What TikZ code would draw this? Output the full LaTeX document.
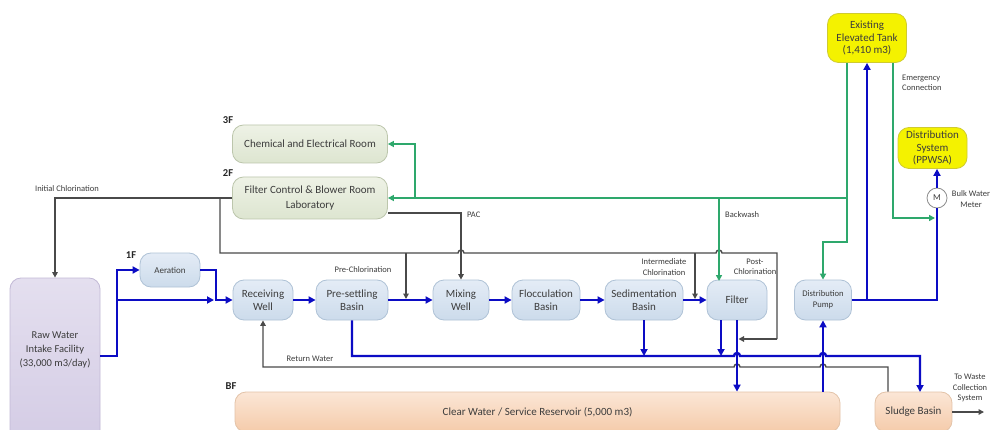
\documentclass[tikz,border=0pt]{standalone}
\usepackage{fontspec}
\setmainfont{Carlito}
\usetikzlibrary{arrows.meta}

\definecolor{txtgray}{HTML}{3C3C3C}
\definecolor{procline}{HTML}{AFC2D6}
\definecolor{proctop}{HTML}{E4ECF6}
\definecolor{procbot}{HTML}{CCDBEB}
\definecolor{roomline}{HTML}{BCC6AC}
\definecolor{roomtop}{HTML}{EEF2E6}
\definecolor{roombot}{HTML}{DDE5D0}
\definecolor{rawline}{HTML}{C2B9D6}
\definecolor{rawtop}{HTML}{E4DFEF}
\definecolor{rawbot}{HTML}{D4CCE5}
\definecolor{resline}{HTML}{E3C3A8}
\definecolor{restop}{HTML}{FBE6D6}
\definecolor{resbot}{HTML}{F5CBAA}
\definecolor{tankfill}{HTML}{F4F200}
\definecolor{tankline}{HTML}{CFCB30}
\definecolor{waterblue}{HTML}{0C0CC4}
\definecolor{chemgray}{HTML}{4A4A4A}
\definecolor{washgreen}{HTML}{2EA86C}

\tikzset{
  boxbase/.style={rectangle, rounded corners=11pt, line width=0.8pt, align=center,
    text=txtgray, inner sep=2pt},
  proc/.style={boxbase, draw=procline, top color=proctop, bottom color=procbot,
    minimum height=40pt, font=\fontsize{11}{13}\selectfont},
  room/.style={boxbase, draw=roomline, top color=roomtop, bottom color=roombot,
    minimum width=155pt, font=\fontsize{11}{14.5}\selectfont},
  tankbox/.style={boxbase, draw=tankline, fill=tankfill,
    font=\fontsize{11}{12.5}\selectfont},
  resbox/.style={boxbase, draw=resline, top color=restop, bottom color=resbot,
    minimum height=40pt, font=\fontsize{11}{13}\selectfont},
  floortag/.style={font=\bfseries\fontsize{10.5}{12}\selectfont, text=black!85, inner sep=0pt},
  note/.style={font=\fontsize{8.5}{10.5}\selectfont, text=txtgray, align=center, inner sep=0pt},
  wline/.style={draw=waterblue, line width=2.4pt},
  wtip/.style={-{Triangle[length=7pt,width=7pt]}},
  cline/.style={draw=chemgray, line width=1.4pt},
  ctip/.style={-{Triangle[length=5.5pt,width=5.5pt]}},
  gline/.style={draw=washgreen, line width=1.8pt},
  gtip/.style={-{Triangle[length=6pt,width=6pt]}},
}

\begin{document}
\begin{tikzpicture}[x=1pt,y=-1pt]
\useasboundingbox (0,0) rectangle (992,430);
\fill[white] (0,0) rectangle (992,430);
\begin{scope}
\clip (0,0) rectangle (992,430);

% ---------- boxes ----------
\node[boxbase, draw=rawline, top color=rawtop, bottom color=rawbot,
      minimum width=90pt, minimum height=164pt] (raw) at (55,360) {};
\node[note, font=\fontsize{10.5}{14}\selectfont] (rawtext) at (55,350)
      {Raw Water\\Intake Facility\\(33,000 m3/day)};

\node[proc, minimum width=60pt, minimum height=34pt, font=\fontsize{9}{10}\selectfont]
      (aer) at (170,270) {Aeration};
\node[proc, minimum width=60pt] (rw)  at (263,300) {Receiving\\Well};
\node[proc, minimum width=72pt] (ps)  at (352,300) {Pre-settling\\Basin};
\node[proc, minimum width=56pt] (mw)  at (461,300) {Mixing\\Well};
\node[proc, minimum width=68pt] (fb)  at (546,300) {Flocculation\\Basin};
\node[proc, minimum width=78pt] (sb)  at (644,300) {Sedimentation\\Basin};
\node[proc, minimum width=60pt] (fil) at (737,300) {Filter};
\node[proc, minimum width=57pt, font=\fontsize{8.6}{11}\selectfont]
      (dp) at (823,300) {Distribution\\Pump};

\node[room, minimum height=38pt] (chem) at (310,144) {Chemical and Electrical Room};
\node[room, minimum height=42pt] (fcb)  at (310,198) {Filter Control \& Blower Room\\Laboratory};

\node[tankbox, minimum width=79pt, minimum height=49pt] (tank) at (867,38)
      {Existing\\Elevated Tank\\(1,410 m3)};
\node[tankbox, minimum width=69pt, minimum height=41pt] (dsys) at (932.5,148)
      {Distribution\\System\\(PPWSA)};
\node[circle, draw=black!45, fill=white, line width=0.8pt, minimum size=20pt,
      inner sep=0pt, font=\fontsize{9}{10}\selectfont, text=txtgray] (meter) at (937,198) {M};

\node[resbox, minimum width=605pt] (res) at (537.5,412) {Clear Water / Service Reservoir (5,000 m3)};
\node[resbox, minimum width=77pt] (sludge) at (913.5,412) {Sludge Basin};

% ---------- floor tags ----------
\node[floortag] (f1) at (131,255) {1F};
\node[floortag] (f2) at (228,173) {2F};
\node[floortag] (f3) at (228,120) {3F};
\node[floortag] (fb0) at (231,386) {BF};

% ---------- junction points ----------
\coordinate (cj) at (220,198);
\coordinate (rawj) at (117,300);
\coordinate (mergeA) at (214,300);
\coordinate (mergeB) at (216,300);
\coordinate (prechl) at (406,299);
\coordinate (interchl) at (695,299);
\coordinate (postchl) at (738.5,339);
\coordinate (bwtop) at (719,198);
\coordinate (bwend) at (719,281);
\coordinate (emend) at (935,218);
\coordinate (tankL) at ([xshift=-20pt]tank.south);
\coordinate (tankR) at ([xshift=26pt]tank.south);
\coordinate (sludgeIn) at (920,392);
\coordinate (retStart) at ([xshift=-25.5pt]sludge.north);
\coordinate (filL) at ([xshift=-16pt]fil.south);
\coordinate (wasteEnd) at (984,412);

% ---------- chemical dosing lines (gray) ----------
\draw[cline, ctip] (fcb.west) -| (raw.north);
\draw[cline] (cj) -- (220,253) -- (458,253)
      arc[start angle=180, end angle=0, radius=3pt] -- (716,253)
      arc[start angle=180, end angle=0, radius=3pt] -- (777,253) -- (777,339);
\draw[cline, ctip] (777,339) -- (postchl);
\draw[cline, ctip] (406,253) -- (prechl);
\draw[cline, ctip] (695,253) -- (interchl);
\draw[cline, ctip] ([yshift=-15pt]fcb.east) -| (mw.north);
% return water
\draw[cline, ctip] (retStart) -- (888,367) -- (826,367)
      arc[start angle=0, end angle=180, radius=3pt] -- (740,367)
      arc[start angle=0, end angle=180, radius=3pt] -- (263,367) -- (rw.south);
\draw[cline, ctip] (sludge.east) -- (wasteEnd);

% ---------- water lines (blue) ----------
\draw[wline, wtip] ([yshift=4pt]raw.east) -- (117,356) |- (aer.west);
\draw[wline, wtip] (rawj) -- (mergeA);
\draw[wline, wtip] (aer.east) -| (mergeB) -- (rw.west);
\draw[wline, wtip] (rw) -- (ps);
\draw[wline, wtip] (ps) -- (mw);
\draw[wline, wtip] (mw) -- (fb);
\draw[wline, wtip] (fb) -- (sb);
\draw[wline, wtip] (sb) -- (fil);
\draw[wline, wtip] (ps.south) -- (352,356) -- (734,356)
      arc[start angle=180, end angle=0, radius=3pt] -- (820,356)
      arc[start angle=180, end angle=0, radius=3pt] -- (920,356) -- (sludgeIn);
\draw[wline, wtip] (sb.south) -- (644,356);
\draw[wline, wtip] (filL) -- (721,356);
\draw[wline, wtip] (fil.south) -- (fil.south |- res.north);
\draw[wline, wtip] (dp.south |- res.north) -- (dp.south);
\draw[wline] (dp.east) -| (meter.south);
\draw[wline, wtip] (tank.south |- dp.east) -- (tank.south);
\draw[wline, wtip] (meter.north) -- (meter.north |- dsys.south);

% ---------- backwash / service lines (green) ----------
\draw[gline, gtip] (tankL) -- (847,242) -| (dp.north);
\draw[gline, gtip] (847,198) -- (415,198) |- (chem.east);
\draw[gline, gtip] (415,198) -- (fcb.east);
\draw[gline, gtip] (bwtop) -- (bwend);
\draw[gline, gtip] (tankR) |- (emend);

% ---------- line labels ----------
\node[note] (lInit) at (67,189) {Initial Chlorination};
\node[note] (lPre) at (363,270) {Pre-Chlorination};
\node[note, anchor=west] (lPac) at (467,215) {PAC};
\node[note, anchor=west] (lBw) at (725,215) {Backwash};
\node[note] (lInt) at (664,267) {Intermediate\\Chlorination};
\node[note] (lPost) at (755,267) {Post-\\Chlorination};
\node[note] (lRet) at (310,359) {Return Water};
\node[note, align=left, anchor=west] (lEm) at (902,83) {Emergency\\Connection};
\node[note] (lMeter) at (971,199) {Bulk Water\\Meter};
\node[note] (lWaste) at (970,388) {To Waste\\Collection\\System};
\end{scope}
\end{tikzpicture}
\end{document}
